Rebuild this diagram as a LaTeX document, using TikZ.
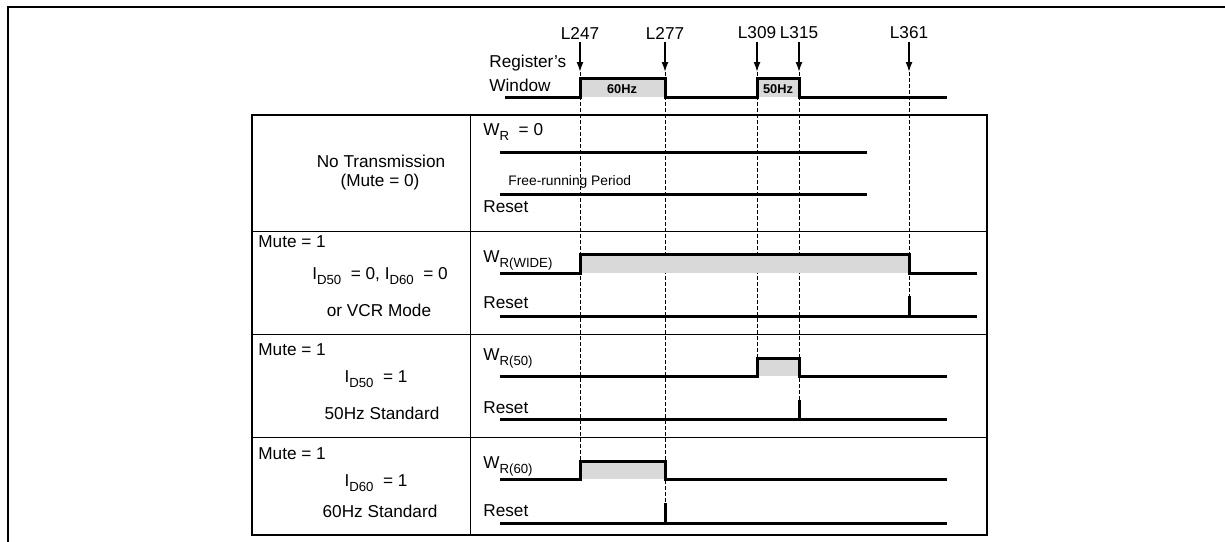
\documentclass[tikz,border=0pt]{standalone}
\usepackage{fontspec}
\setmainfont{Liberation Sans}
\usetikzlibrary{arrows.meta}

\newcommand{\lsub}[1]{\raisebox{-0.55ex}{\fontsize{6.6}{7}\selectfont #1}}

\begin{document}
\begin{tikzpicture}[x=0.5pt,y=-0.5pt,
    every node/.style={font=\fontsize{8.6}{10}\selectfont, inner sep=0pt},
    wave/.style={line width=1.5pt},
    guide/.style={line width=0.4pt, dash pattern=on 2pt off 1pt},
    marker/.style={-{Latex[length=5pt,width=3.5pt]}, line width=0.8pt},
    winfill/.style={fill=black!15},
    hz/.style={font=\fontsize{6.4}{7}\selectfont\bfseries}]

    \useasboundingbox (0,0) rectangle (1225,541);

    % Outer frame (cut off at right and bottom)
    \draw[line width=1.4pt] (8,560) -- (8,7) -- (1240,7);

    % Arrow tips at the line marks
    \coordinate (T247) at (580,72);
    \coordinate (T277) at (665,72);
    \coordinate (T309) at (757,72);
    \coordinate (T315) at (799,72);
    \coordinate (T361) at (909,72);

    % Ends of the dashed guide lines
    \coordinate (E247) at (580,461);
    \coordinate (E277) at (665,503);
    \coordinate (E309) at (757,358);
    \coordinate (E315) at (799,400);
    \coordinate (E361) at (909,296);

    % Line labels with arrows
    \node[inner sep=1.5pt] (L247) at (580,33) {L247};
    \node[inner sep=1.5pt] (L277) at (665,33) {L277};
    \node[inner sep=1.5pt] (L309) at (757,33) {L309};
    \node[inner sep=1.5pt] (L315) at (799,33) {L315};
    \node[inner sep=1.5pt] (L361) at (909,33) {L361};
    \draw[marker] (L247) -- (T247);
    \draw[marker] (L277) -- (T277);
    \draw[marker] (L309) -- (T309);
    \draw[marker] (L315) -- (T315);
    \draw[marker] (L361) -- (T361);

    % Dashed guides
    \draw[guide] (T247) -- (E247);
    \draw[guide] (T277) -- (E277);
    \draw[guide] (T309) -- (E309);
    \draw[guide] (T315) -- (E315);
    \draw[guide] (T361) -- (E361);

    % Register's window
    \node[anchor=west] (regname) at (489,63) {Register's};
    \node[anchor=west] (winname) at (489,85) {Window};
    \fill[winfill] (580,78) rectangle (665,97);
    \fill[winfill] (757,78) rectangle (799,97);
    \draw[wave] (505,97) -- (580,97) -- (580,78) -- (665,78) -- (665,97)
        -- (757,97) -- (757,78) -- (799,78) -- (799,97) -- (947,97);
    \node[hz] (hz60) at (622,89) {60Hz};
    \node[hz] (hz50) at (778,89) {50Hz};

    % Table
    \draw[line width=0.9pt] (252,115) rectangle (987,535);
    \draw[line width=0.5pt] (470,115) -- (470,535);
    \draw[line width=0.5pt] (252,231) -- (987,231);
    \draw[line width=0.5pt] (252,334) -- (987,334);
    \draw[line width=0.5pt] (252,437) -- (987,437);

    % Row 1: no transmission
    \node (notx) at (381,161) {No Transmission};
    \node (mute0) at (380,182) {(Mute = 0)};
    \node[anchor=west] (wr0) at (483,132) {W\lsub{R}\ \ = 0};
    \draw[wave] (500,152) -- (867,152);
    \node[anchor=west, font=\fontsize{6.9}{8}\selectfont] (free) at (508,182) {Free-running Period};
    \draw[wave] (500,194) -- (867,194);
    \node[anchor=west] (rst1) at (483,207) {Reset};

    % Row 2: wide window
    \node[anchor=west] (mute1a) at (258,242) {Mute = 1};
    \node (id0) at (380,276) {I\lsub{D50}\ \ = 0, I\lsub{D60}\ \ = 0};
    \node (vcr) at (379,310) {or VCR Mode};
    \node[anchor=west] (wrwide) at (483,260) {W\lsub{R(WIDE)}};
    \fill[winfill] (580,254) rectangle (909,273);
    \draw[wave] (500,273) -- (580,273) -- (580,254) -- (909,254) -- (909,273) -- (977,273);
    \node[anchor=west] (rst2) at (483,303) {Reset};
    \draw[wave] (500,316) -- (977,316);
    \draw[wave] (909,316) -- (909,296);

    % Row 3: 50Hz
    \node[anchor=west] (mute1b) at (258,350) {Mute = 1};
    \node (id50) at (376,379) {I\lsub{D50}\ \ = 1};
    \node (std50) at (382,413) {50Hz Standard};
    \node[anchor=west] (wr50) at (483,358) {W\lsub{R(50)}};
    \fill[winfill] (757,358) rectangle (799,376);
    \draw[wave] (500,376) -- (757,376) -- (757,358) -- (799,358) -- (799,376) -- (947,376);
    \node[anchor=west] (rst3) at (483,408) {Reset};
    \draw[wave] (500,419) -- (947,419);
    \draw[wave] (799,419) -- (799,400);

    % Row 4: 60Hz
    \node[anchor=west] (mute1c) at (258,454) {Mute = 1};
    \node (id60) at (376,483) {I\lsub{D60}\ \ = 1};
    \node (std60) at (380,511) {60Hz Standard};
    \node[anchor=west] (wr60) at (483,466) {W\lsub{R(60)}};
    \fill[winfill] (580,461) rectangle (665,479);
    \draw[wave] (500,479) -- (580,479) -- (580,461) -- (665,461) -- (665,479) -- (947,479);
    \node[anchor=west] (rst4) at (483,511) {Reset};
    \draw[wave] (500,523) -- (947,523);
    \draw[wave] (665,523) -- (665,503);

\end{tikzpicture}
\end{document}
